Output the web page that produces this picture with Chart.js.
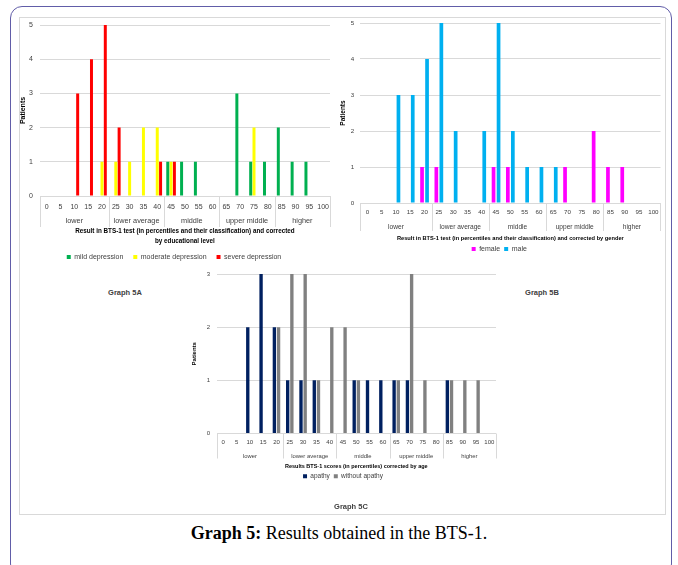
<!DOCTYPE html>
<html><head><meta charset="utf-8">
<script src="https://cdn.jsdelivr.net/npm/chart.js@4"></script>
<style>
html,body{margin:0;padding:0;background:#fff}
body{width:678px;height:565px;overflow:hidden;position:relative;font-family:"Liberation Sans",Arial,sans-serif}
#outer{position:absolute;left:10px;top:6px;width:662px;height:570px;border:1.5px solid #615da8;border-radius:12px;box-sizing:border-box}
#frame{position:absolute;left:19px;top:17px;width:647px;height:498px;border:1px solid #d9d9d9;box-sizing:border-box}
canvas{position:absolute}
.gl{position:absolute;font:bold 7.5px "Liberation Sans",Arial,sans-serif;color:#404040;transform:translate(-50%,-50%);white-space:nowrap}
#caption{position:absolute;left:0;width:678px;top:533px;transform:translateY(-50%);text-align:center;font:18px "Liberation Serif","Times New Roman",serif;color:#000;white-space:nowrap}
</style></head>
<body>
<div id="outer"></div>
<div id="frame"></div>
<canvas id="cA" width="322" height="259" style="left:18px;top:12px"></canvas>
<canvas id="cB" width="327" height="253" style="left:338px;top:10px"></canvas>
<canvas id="cC" width="314" height="228" style="left:190px;top:262px"></canvas>
<div class="gl" style="left:125px;top:292px">Graph 5A</div>
<div class="gl" style="left:542px;top:292px">Graph 5B</div>
<div class="gl" style="left:351px;top:506px">Graph 5C</div>
<div id="caption"><b>Graph 5:</b> Results obtained in the BTS-1.</div>
<script>
// ---- data ----
const percentiles = ['0','5','10','15','20','25','30','35','40','45','50','55','60','65','70','75','80','85','90','95','100'];
const groupNames = ['lower','lower average','middle','upper middle','higher'];
const groupFirst = ['0','25','45','65','85'];
const groupLast  = ['20','40','60','80','100'];

// Graph 5A (educational level)
const mildDepression     = [null,null,null,null,null,null,null,null,null,1,1,1,null,null,3,1,1,2,1,1,null];
const moderateDepression = [null,null,null,null,1,1,1,2,2,1,null,null,null,null,null,2,null,null,null,null,null];
const severeDepression   = [null,null,3,4,5,2,null,null,1,1,null,null,null,null,null,null,null,null,null,null,null];
// Graph 5B (gender)
const female = [null,null,null,null,1,1,null,null,null,1,1,null,null,null,1,null,2,1,1,null,null];
const male   = [null,null,3,3,4,5,2,null,2,5,2,1,1,1,null,null,null,null,null,null,null];
// Graph 5C (age)
const apathy        = [null,null,2,3,2,1,1,1,null,null,1,1,1,1,1,null,null,1,null,null,null];
const withoutApathy = [null,null,null,null,2,3,3,1,2,2,1,null,null,1,3,1,null,1,1,1,null];

Chart.defaults.font.family = '"Liberation Sans", Arial, sans-serif';

const groupPlugin = {
  id: 'groups',
  afterDraw(chart, args, o) {
    const x = chart.scales.x, ctx = chart.ctx, b = chart.chartArea.bottom;
    const half = (x.getPixelForValue(1) - x.getPixelForValue(0)) / 2;
    ctx.save();
    ctx.strokeStyle = '#d9d9d9';
    ctx.lineWidth = 1;
    const edges = [x.getPixelForValue(0) - half];
    groupLast.forEach(v => edges.push(x.getPixelForValue(percentiles.indexOf(v)) + half));
    edges.forEach(px => {
      const p = Math.round(px) + 0.5;
      ctx.beginPath(); ctx.moveTo(p, b); ctx.lineTo(p, b + o.sep); ctx.stroke();
    });
    ctx.fillStyle = '#404040';
    ctx.font = o.size + 'px "Liberation Sans", Arial, sans-serif';
    ctx.textAlign = 'center';
    ctx.textBaseline = 'middle';
    groupNames.forEach((n, i) => {
      const a = x.getPixelForValue(percentiles.indexOf(groupFirst[i]));
      const c = x.getPixelForValue(percentiles.indexOf(groupLast[i]));
      ctx.fillText(n, (a + c) / 2, b + o.offset);
    });
    ctx.restore();
  }
};

function makeChart(id, cfg) {
  return new Chart(document.getElementById(id), {
    type: 'bar',
    data: { labels: percentiles, datasets: cfg.datasets },
    options: {
      responsive: false, animation: false, devicePixelRatio: 1, events: [],
      layout: { padding: cfg.padding },
      datasets: { bar: { categoryPercentage: cfg.cp, barPercentage: cfg.bp } },
      scales: {
        x: {
          grid: { display: false, drawTicks: false }, border: { display: false },
          ticks: { autoSkip: false, maxRotation: 0, minRotation: 0, padding: cfg.xTickPad, color: '#404040', font: { size: cfg.tickSize } },
          title: { display: true, text: cfg.xTitle, color: '#000', font: { size: cfg.titleSize, weight: 'bold', lineHeight: cfg.titleLH }, padding: { top: 0, bottom: cfg.titlePadB } },
          afterFit: s => { s.height = cfg.xHeight; }
        },
        y: {
          min: 0, max: cfg.ymax,
          grid: { color: '#d9d9d9', drawTicks: false }, border: { display: false },
          ticks: { stepSize: 1, padding: cfg.yTickPad, color: '#404040', font: { size: cfg.tickSize } },
          title: { display: true, text: 'Patients', color: '#000', font: { size: cfg.yTitleSize, weight: 'bold' }, padding: { top: cfg.yTitlePad, bottom: 0 } },
          afterFit: s => { s.width = cfg.yWidth; }
        }
      },
      plugins: {
        legend: { position: 'bottom', labels: { boxWidth: 4, boxHeight: 4, padding: cfg.legendPad, color: '#404040', font: { size: cfg.legendSize } } },
        tooltip: { enabled: false },
        groups: cfg.groups
      }
    },
    plugins: [groupPlugin]
  });
}

makeChart('cA', {
  datasets: [
    { label: 'mild depression', data: mildDepression, backgroundColor: '#00b050' },
    { label: 'moderate depression', data: moderateDepression, backgroundColor: '#ffff00' },
    { label: 'severe depression', data: severeDepression, backgroundColor: '#ff0000' }
  ],
  padding: { left: 0, right: 10, top: 13, bottom: 0.5 },
  cp: 0.72, bp: 0.9, ymax: 5,
  xTickPad: 7, tickSize: 7,
  xTitle: ['Result in BTS-1 test (in percentiles and their classification) and corrected', 'by educational level'],
  titleSize: 6.3, titleLH: 1.6, titlePadB: -2.4, xHeight: 47.5,
  yTickPad: 7, yTitleSize: 7, yTitlePad: 0.5, yWidth: 21.8,
  legendPad: 10, legendSize: 7,
  groups: { offset: 25, sep: 31, size: 7.3 }
});

makeChart('cB', {
  datasets: [
    { label: 'female', data: female, backgroundColor: '#ff00ff' },
    { label: 'male', data: male, backgroundColor: '#00b0f0' }
  ],
  padding: { left: 0, right: 4.5, top: 13, bottom: 0.5 },
  cp: 0.7, bp: 0.74, ymax: 5,
  xTickPad: 6, tickSize: 6.2,
  xTitle: 'Result in BTS-1 test (in percentiles and their classification) and corrected by gender',
  titleSize: 5.7, titleLH: 1.4, titlePadB: -0.5, xHeight: 38.5,
  yTickPad: 6, yTitleSize: 6.5, yTitlePad: 1, yWidth: 22.2,
  legendPad: 4, legendSize: 7,
  groups: { offset: 24, sep: 28, size: 6.6 }
});

makeChart('cC', {
  datasets: [
    { label: 'apathy', data: apathy, backgroundColor: '#002060' },
    { label: 'without apathy', data: withoutApathy, backgroundColor: '#808080' }
  ],
  padding: { left: 0, right: 8, top: 12, bottom: 0.5 },
  cp: 0.63, bp: 0.8, ymax: 3,
  xTickPad: 5.5, tickSize: 6,
  xTitle: 'Results BTS-1 scores (in percentiles) corrected by age',
  titleSize: 5.5, titleLH: 1.4, titlePadB: -1.5, xHeight: 35.5,
  yTickPad: 6.5, yTitleSize: 6, yTitlePad: 0.8, yWidth: 26.6,
  legendPad: 4, legendSize: 6.5,
  groups: { offset: 23, sep: 25, size: 5.9 }
});
</script>
</body></html>
